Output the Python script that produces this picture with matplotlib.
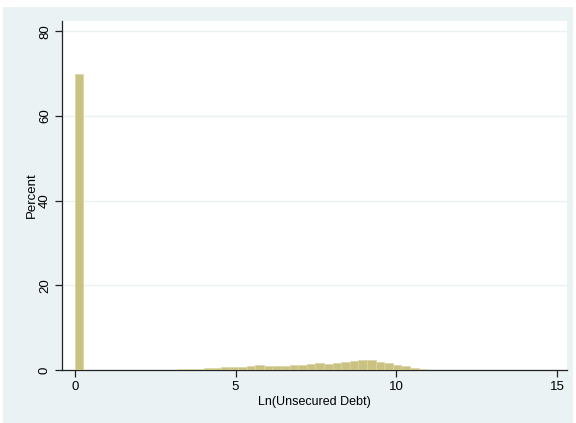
import matplotlib
matplotlib.use("Agg")
import matplotlib.pyplot as plt
from matplotlib.patches import Rectangle
import numpy as np

# Histogram: bin width and percent per bin (bins start at 0)
bin_width = 14.7 / 55
percent = [69.8, 0.02, 0.02, 0.02, 0.02, 0.03, 0.03, 0.04, 0.04,
           0.05, 0.08, 0.10, 0.15, 0.30, 0.35, 0.45, 0.55, 0.60, 0.65,
           0.80, 0.95, 1.15, 0.85, 0.95, 0.97, 1.15, 1.20, 1.45, 1.62,
           1.30, 1.62, 1.95, 2.05, 2.37, 2.37, 1.90, 1.60, 1.28, 0.87,
           0.45, 0.20, 0.10, 0.05, 0.04, 0.03, 0.03, 0.02, 0.02, 0.02,
           0.01]
x_ticks = [0, 5, 10, 15]
y_ticks = [0, 20, 40, 60, 80]
x_label = "Ln(Unsecured Debt)"
y_label = "Percent"

plt.rcParams['font.family'] = ['Liberation Sans', 'DejaVu Sans']

fig = plt.figure(figsize=(5.76, 4.23), dpi=100)
fig.patch.set_facecolor('white')
bg = Rectangle((3 / 576, 0.0), 570 / 576, (423 - 7) / 423,
               transform=fig.transFigure, facecolor='#EAF2F3',
               edgecolor='none', zorder=-10)
fig.patches.append(bg)

ax = fig.add_axes([62 / 576, (423 - 370) / 423, 505 / 576, 349 / 423])
ax.set_facecolor('white')

lefts = np.arange(len(percent)) * bin_width
ax.bar(lefts, percent, width=bin_width, align='edge',
       color='#C9C281', edgecolor='#D9D4A4', linewidth=0.5, zorder=3)

ax.set_xlim(-0.40, 15.31)
ax.set_ylim(0, 82.4)
ax.set_xticks(x_ticks)
ax.set_yticks(y_ticks)
ax.set_yticklabels([str(t) for t in y_ticks], rotation=90, va='center')
ax.grid(axis='y', color='#EAF2F3', linewidth=1.0, zorder=0)
ax.set_axisbelow(True)

for s in ['top', 'right']:
    ax.spines[s].set_visible(False)
for s in ['left', 'bottom']:
    ax.spines[s].set_color('#222222')
    ax.spines[s].set_linewidth(0.9)

ax.tick_params(axis='both', direction='out', length=5, width=0.9,
               color='#222222', labelsize=9.5, labelcolor='black', pad=3)
ax.set_xlabel(x_label, fontsize=9, labelpad=2)
ax.set_ylabel(y_label, fontsize=9.5, labelpad=1)

fig.savefig("out.png", dpi=100, facecolor=fig.get_facecolor())
